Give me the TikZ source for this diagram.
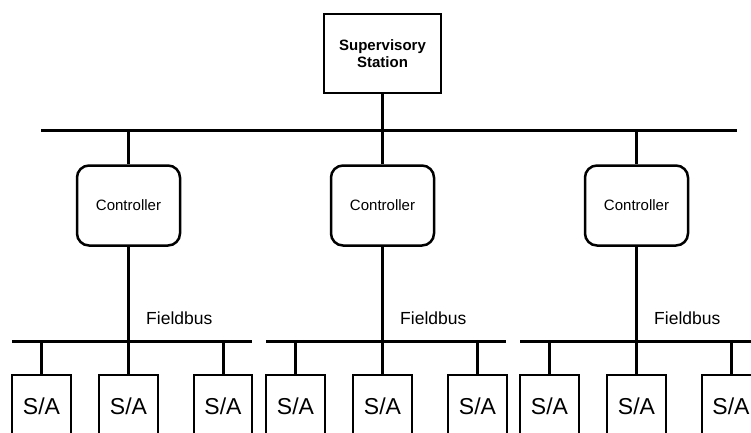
\documentclass[tikz,border=0pt]{standalone}
\usepackage{fontspec}
\setmainfont{Liberation Sans}
\begin{document}
\begin{tikzpicture}[x=1pt,y=-1pt,
  bus/.style={line width=3pt},
  stub/.style={line width=3pt},
  supbox/.style={draw,line width=2.5pt,minimum width=117pt,minimum height=79pt,inner sep=0pt,align=center,font=\fontsize{15}{17.7}\selectfont\bfseries},
  ctlbox/.style={draw,line width=2.5pt,rounded corners=12pt,minimum width=103pt,minimum height=80pt,inner sep=0pt,font=\fontsize{15}{18}\selectfont},
  sabox/.style={draw,line width=2.2pt,minimum width=58.5pt,minimum height=62pt,inner sep=0pt,font=\fontsize{23}{27}\selectfont},
  fblabel/.style={anchor=west,inner sep=0pt,font=\fontsize{17.5}{20}\selectfont}
]
\useasboundingbox (0,0) rectangle (751,432);
\clip (0,0) rectangle (751,432);

\node[supbox] (sup) at (382.5,53.5) {Supervisory\\Station};

\coordinate (busL) at (41,130);
\coordinate (busR) at (737,130);
\draw[bus] (busL) -- (busR);
\draw[stub] (sup.south) -- (sup.south |- busL);

\foreach \i/\x/\bl/\br in {1/128.5/12/252, 2/382.5/266/506, 3/636.5/520/760}{
  \node[ctlbox] (ctl\i) at (\x,205.5) {Controller};
  \draw[stub] (ctl\i.north |- busL) -- (ctl\i.north);
  \coordinate (fbL\i) at (\bl,341);
  \coordinate (fbR\i) at (\br,341);
  \draw[bus] (fbL\i) -- (fbR\i);
  \draw[stub] (ctl\i.south) -- (ctl\i.south |- fbL\i);
  \node[fblabel] (fb\i) at (\x+17.5,318) {Fieldbus};
}

\foreach \j/\x/\g in {1/41.5/1, 2/128.5/1, 3/223/1, 4/295.5/2, 5/382.5/2, 6/477.5/2, 7/549.5/3, 8/636.5/3, 9/731/3}{
  \node[sabox] (sa\j) at (\x,406) {S/A};
  \draw[stub] (sa\j.north |- fbL\g) -- (sa\j.north);
}
\end{tikzpicture}
\end{document}
